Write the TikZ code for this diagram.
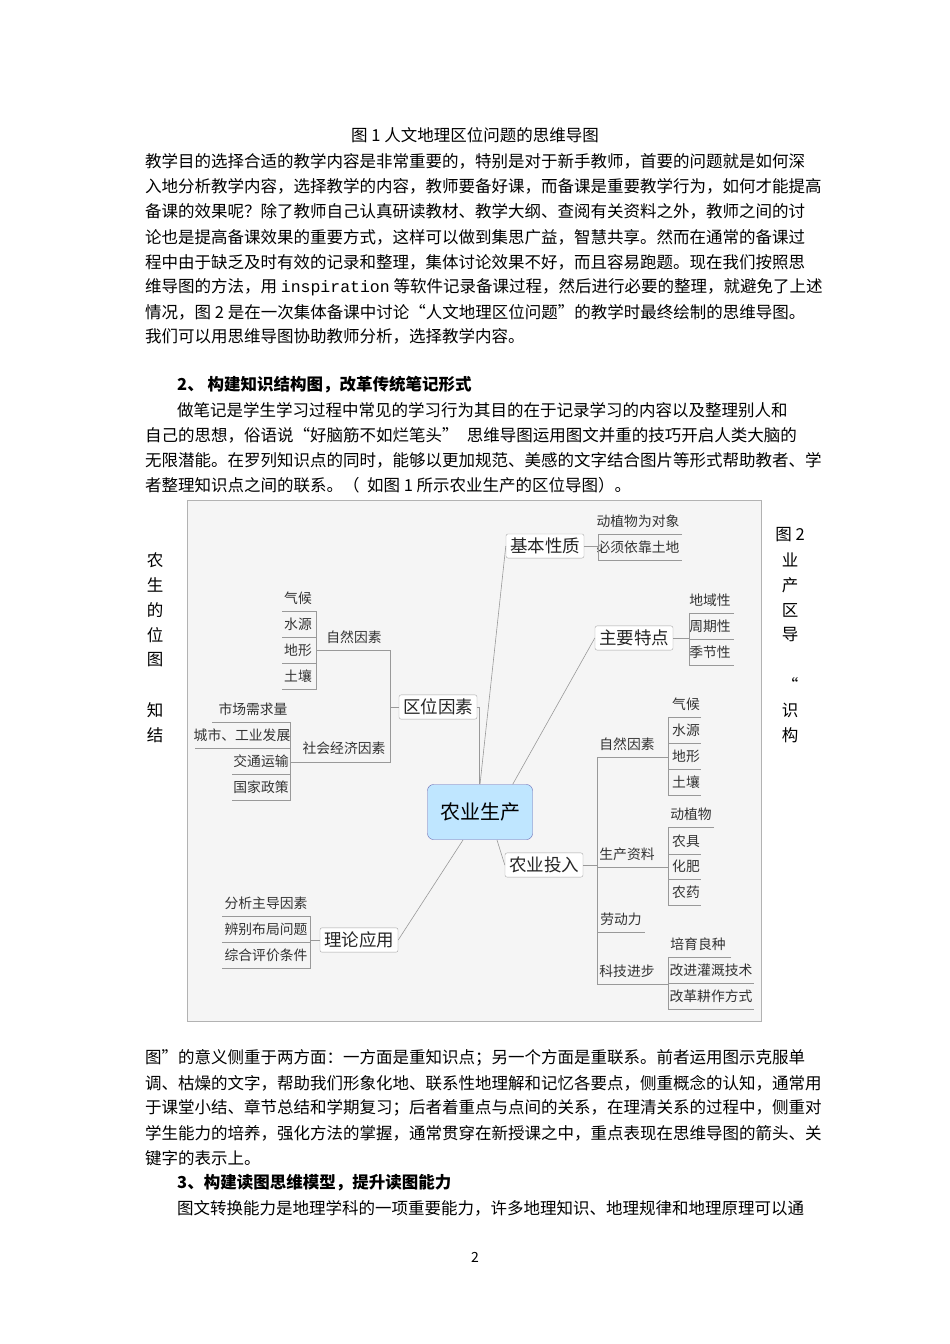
\documentclass[tikz,border=0pt]{standalone}
\usepackage{fontspec}
\setmainfont{Noto Sans CJK SC}
\setmonofont{Liberation Mono}
\begin{document}
\begin{tikzpicture}[x=1pt,y=-1pt,
  body/.style={anchor=west,inner sep=0pt,font=\fontsize{16.5}{17}\selectfont},
  bodyb/.style={body,font=\fontsize{16.5}{17}\selectfont\bfseries},
  side/.style={inner sep=0pt,font=\fontsize{16.5}{17}\selectfont},
  leaf/.style={inner sep=0pt,font=\fontsize{13.8}{14}\selectfont,text=black!80},
  mbox/.style={draw=black!35,fill=white,rounded corners=2pt,inner xsep=4pt,inner ysep=4pt,font=\fontsize{17.5}{18}\selectfont,text=black!85},
  ln/.style={draw=black!40,line width=0.6pt}]
\path[use as bounding box] (0,0) rectangle (950,1344);
\fill[white] (0,0) rectangle (950,1344);
% body text
\node[side] (cap) at (475,135) {图 1 人文地理区位问题的思维导图};
\node[body] (l1) at (145,161) {教学目的选择合适的教学内容是非常重要的，特别是对于新手教师，首要的问题就是如何深};
\node[body] (l2) at (145,186) {入地分析教学内容，选择教学的内容，教师要备好课，而备课是重要教学行为，如何才能提高};
\node[body] (l3) at (145,211) {备课的效果呢？除了教师自己认真研读教材、教学大纲、查阅有关资料之外，教师之间的讨};
\node[body] (l4) at (145,237) {论也是提高备课效果的重要方式，这样可以做到集思广益，智慧共享。然而在通常的备课过};
\node[body] (l5) at (145,262) {程中由于缺乏及时有效的记录和整理，集体讨论效果不好，而且容易跑题。现在我们按照思};
\node[body] (l6) at (145,287) {维导图的方法，用 {\ttfamily inspiration} 等软件记录备课过程，然后进行必要的整理，就避免了上述};
\node[body] (l7) at (145,312) {情况，图 2 是在一次集体备课中讨论“人文地理区位问题”的教学时最终绘制的思维导图。};
\node[body] (l8) at (145,336) {我们可以用思维导图协助教师分析，选择教学内容。};
\node[bodyb] (h2) at (177,385) {2、 构建知识结构图，改革传统笔记形式};
\node[body] (m1) at (177,410) {做笔记是学生学习过程中常见的学习行为其目的在于记录学习的内容以及整理别人和};
\node[body] (m2) at (145,435) {自己的思想，俗语说“好脑筋不如烂笔头”\enspace 思维导图运用图文并重的技巧开启人类大脑的};
\node[body] (m3) at (145,460) {无限潜能。在罗列知识点的同时，能够以更加规范、美感的文字结合图片等形式帮助教者、学};
\node[body] (m4) at (145,485) {者整理知识点之间的联系。（ \ 如图 1 所示农业生产的区位导图）。};
\foreach \t/\y/\n in {农/560/a1,生/585/a2,的/610/a3,位/635/a4,图/660/a5,知/710/a6,结/735/a7}
  \node[side] (s\n) at (155,\y) {\t};
\foreach \t/\y/\n in {图 2/535/b1,业/560/b2,产/585/b3,区/610/b4,导/635/b5,“/685/b6,识/710/b7,构/735/b8}
  \node[side] (s\n) at (790,\y) {\t};
\node[body] (n1) at (145,1058) {图”的意义侧重于两方面：一方面是重知识点；另一个方面是重联系。前者运用图示克服单};
\node[body] (n2) at (145,1083) {调、枯燥的文字，帮助我们形象化地、联系性地理解和记忆各要点，侧重概念的认知，通常用};
\node[body] (n3) at (145,1108) {于课堂小结、章节总结和学期复习；后者着重点与点间的关系，在理清关系的过程中，侧重对};
\node[body] (n4) at (145,1133) {学生能力的培养，强化方法的掌握，通常贯穿在新授课之中，重点表现在思维导图的箭头、关};
\node[body] (n5) at (145,1158) {键字的表示上。};
\node[bodyb] (h3) at (177,1183) {3、构建读图思维模型，提升读图能力};
\node[body] (n6) at (177,1208) {图文转换能力是地理学科的一项重要能力，许多地理知识、地理规律和地理原理可以通};
\node[side,font=\fontsize{14}{14}\selectfont] (pg) at (475,1257) {2};
% mind map frame
\draw[draw=black!30,fill=black!4] (187,500) rectangle (761,1021);
\node[draw=blue!50!black!60,fill=blue!40!cyan!25,rounded corners=6pt,minimum width=105pt,minimum height=55pt,font=\fontsize{20}{20}\selectfont] (c) at (480,812) {农业生产};
\node[mbox] (jb) at (545,546) {基本性质};
\node[mbox] (zt) at (634,638) {主要特点};
\node[mbox] (qw) at (438,707) {区位因素};
\node[mbox] (tr) at (544,865) {农业投入};
\node[mbox] (ll) at (359,940) {理论应用};
\draw[ln] (c.north) -- (jb.west);
\draw[ln] (c.north east) ++(-20,0) coordinate (c1) -- (zt.west);
\draw[ln] (c) ++(17,28) coordinate (c3) -- (tr.west);
\draw[ln] (qw.east) -- ++(2,0) coordinate (q1) -- (c.north -| q1);
\draw[ln] (c) ++(-17,28) coordinate (c4) -- (ll.east);
% leaves
\foreach \t/\x/\y/\n in {动植物为对象/638/521/k1,必须依靠土地/638/547/k2,地域性/710/600/t1,周期性/710/626/t2,季节性/710/652/t3,
  自然因素/354/637/q2,气候/298/598/q3,水源/298/624/q4,地形/298/650/q5,土壤/298/676/q6,
  社会经济因素/344/748/q7,市场需求量/253/709/q8,城市、工业发展/242/735/q9,交通运输/261/761/q10,国家政策/261/787/q11,
  自然因素/627/744/r1,气候/686/704/r2,水源/686/730/r3,地形/686/756/r4,土壤/686/782/r5,
  生产资料/627/854/r6,动植物/691/814/r7,农具/686/841/r8,化肥/686/866/r9,农药/686/892/r10,
  劳动力/621/919/r11,科技进步/627/971/r12,培育良种/698/944/r13,改进灌溉技术/711/970/r14,改革耕作方式/711/996/r15,
  分析主导因素/266/903/p1,辨别布局问题/266/929/p2,综合评价条件/266/955/p3}
  \node[leaf] (\n) at (\x,\y) {\t};
% brackets
\draw[ln] (jb.east) -- (598,546);
\draw[ln] (682,534) -- (598,534) -- (598,560) -- (682,560);
\draw[ln] (zt.east) -- (689,638);
\draw[ln] (734,613) -- (689,613) -- (689,665) -- (734,665) (689,639) -- (734,639);
\draw[ln] (qw.west) -- (390,707);
\draw[ln] (316,650) -- (390,650) -- (390,762) -- (290,762);
\draw[ln] (282,611) -- (316,611) -- (316,689) -- (282,689) (282,637) -- (316,637) (282,663) -- (316,663);
\draw[ln] (212,722) -- (290,722) -- (290,800) -- (232,800) (195,748) -- (290,748) (232,774) -- (290,774);
\draw[ln] (tr.east) -- (597,865);
\draw[ln] (668,757) -- (597,757) -- (597,984) -- (668,984) (597,867) -- (668,867) (597,932) -- (645,932);
\draw[ln] (701,717) -- (668,717) -- (668,795) -- (701,795) (668,743) -- (701,743) (668,769) -- (701,769);
\draw[ln] (714,827) -- (668,827) -- (668,905) -- (701,905) (668,854) -- (701,854) (668,879) -- (701,879);
\draw[ln] (731,957) -- (668,957) -- (668,1009) -- (754,1009) (668,983) -- (754,983);
\draw[ln] (ll.west) -- (310,940);
\draw[ln] (222,916) -- (310,916) -- (310,968) -- (222,968) (222,942) -- (310,942);
\end{tikzpicture}
\end{document}
